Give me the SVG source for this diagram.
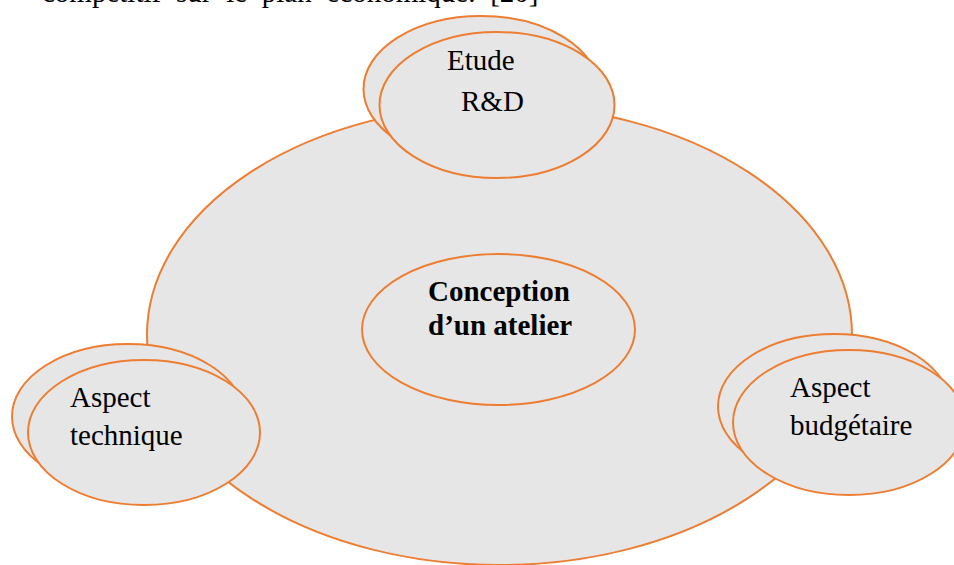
<svg xmlns="http://www.w3.org/2000/svg" width="954" height="565" viewBox="0 0 954 565">
<style>
.sh{fill:#e6e6e6;stroke:#ed7d31;stroke-width:2}
.t{font-family:"Liberation Serif","Times New Roman",serif;font-size:29px;fill:#000}
.b{font-weight:bold}
</style>
<rect width="954" height="565" fill="#fff"/>
<text class="t" x="42" y="2" word-spacing="7.5">compétitif sur le plan économique. [20]</text>
<g id="main">
<ellipse class="sh" cx="499.5" cy="335" rx="352.5" ry="230"/>
</g>
<g id="center">
<ellipse class="sh" cx="498.5" cy="329.5" rx="136.5" ry="75.5"/>
<text class="t b" x="428" y="301">Conception</text>
<text class="t b" x="428" y="335">d’un atelier</text>
</g>
<g id="etude">
<ellipse class="sh" cx="481" cy="89" rx="117.5" ry="73"/>
<ellipse class="sh" cx="497" cy="105" rx="117.5" ry="73"/>
<text class="t" x="447" y="70">Etude</text>
<text class="t" x="461" y="110.5">R&amp;D</text>
</g>
<g id="technique">
<ellipse class="sh" cx="128" cy="416.5" rx="116" ry="72.5"/>
<ellipse class="sh" cx="144" cy="432.5" rx="116" ry="72.5"/>
<text class="t" x="70" y="407">Aspect</text>
<text class="t" x="70" y="445">technique</text>
</g>
<g id="budget">
<ellipse class="sh" cx="834" cy="406.5" rx="116" ry="72.5"/>
<ellipse class="sh" cx="849" cy="422.5" rx="116" ry="72.5"/>
<text class="t" x="790" y="397">Aspect</text>
<text class="t" x="790" y="435">budgétaire</text>
</g>
<g id="connectors"/>
</svg>
